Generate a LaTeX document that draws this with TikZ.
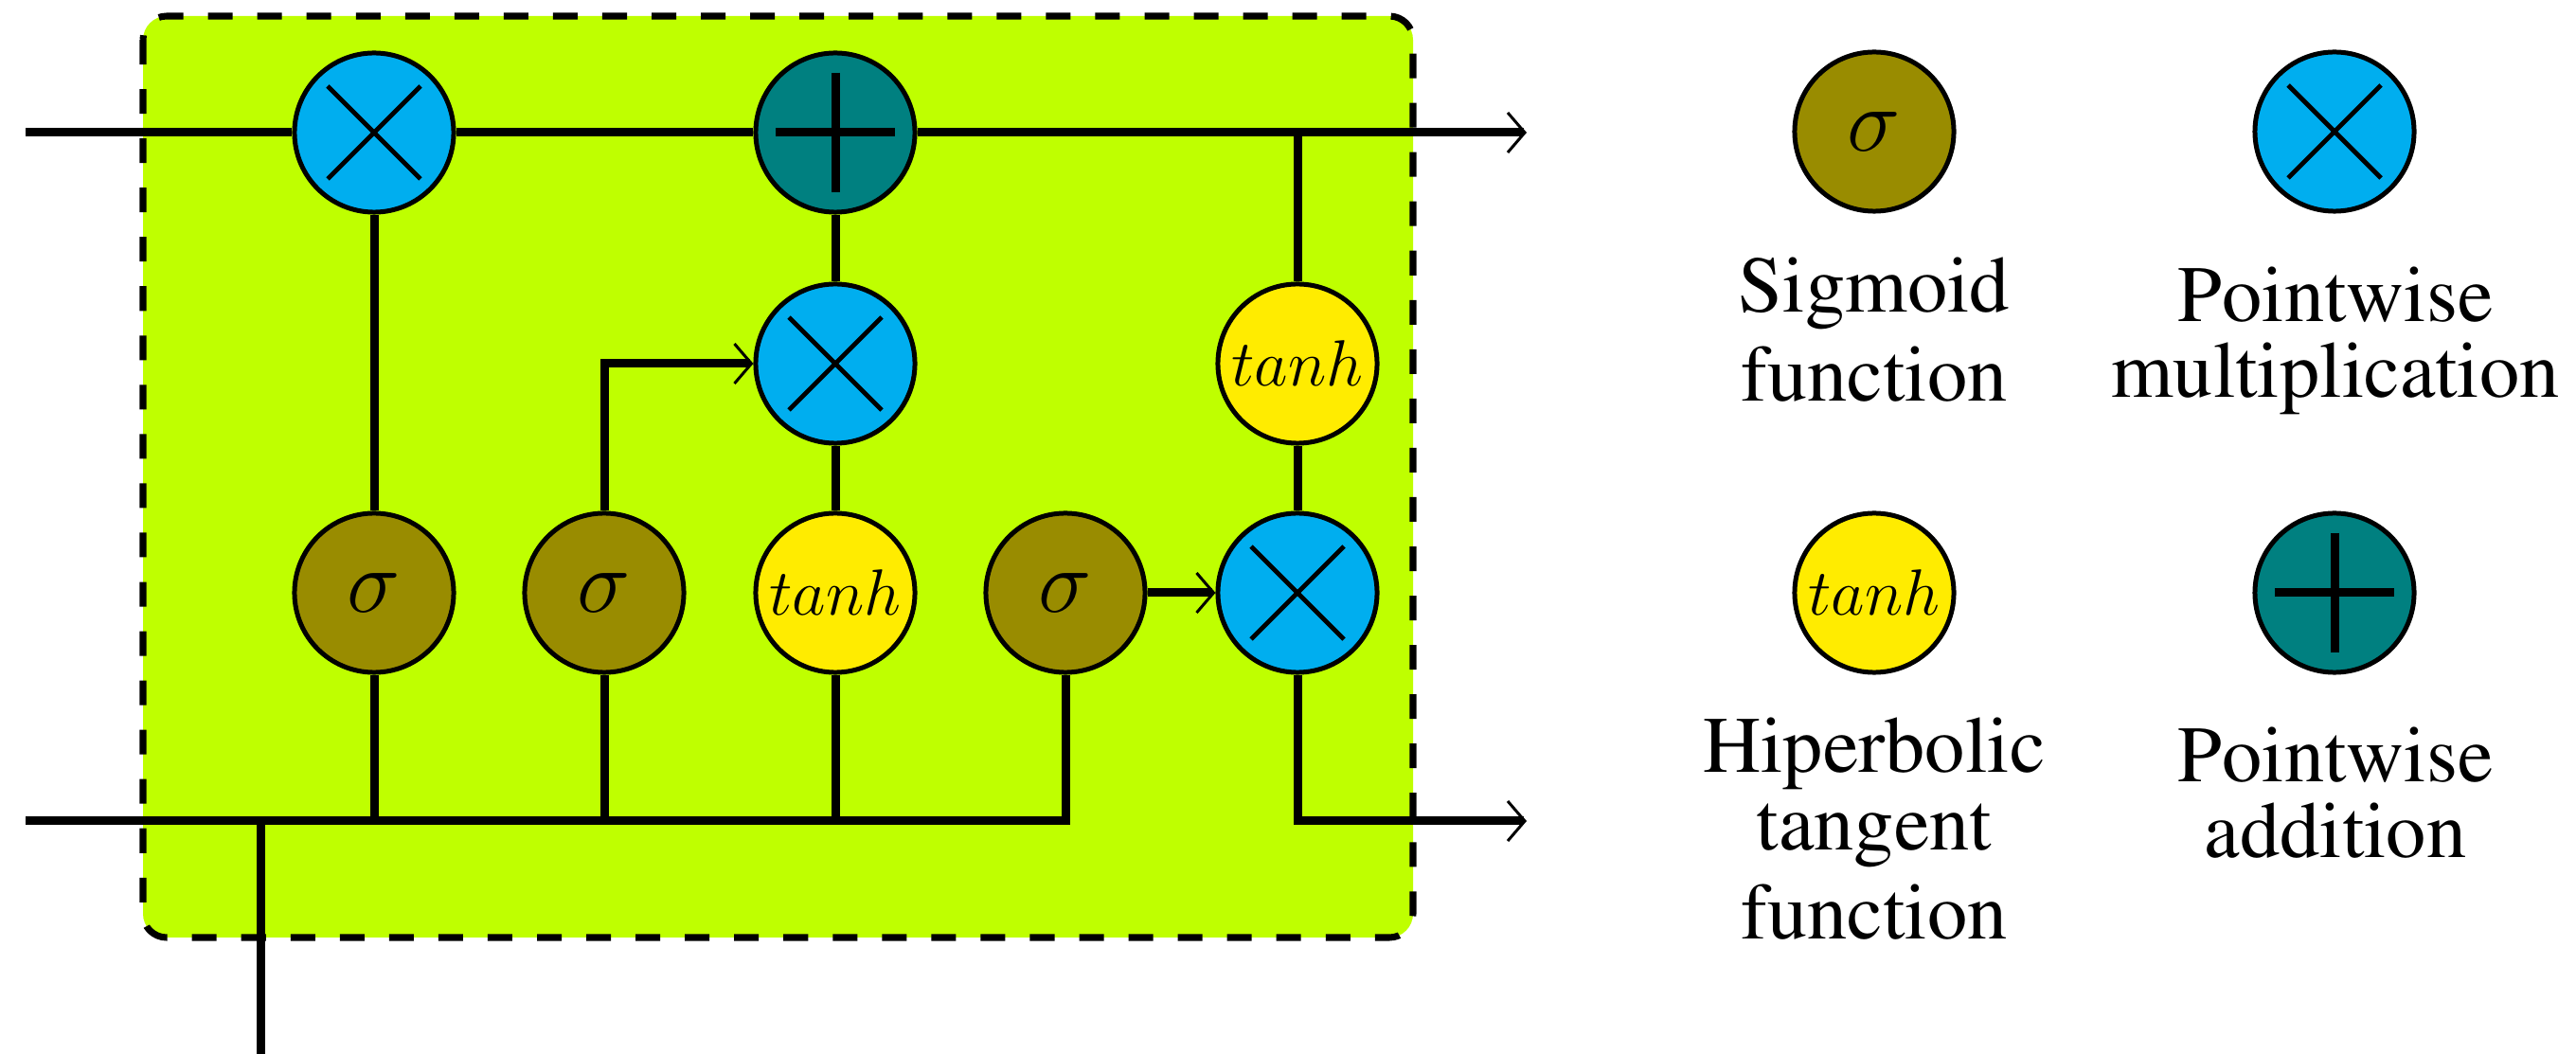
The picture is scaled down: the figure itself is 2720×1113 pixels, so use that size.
\RequirePackage{fix-cm}
\documentclass[tikz,border=0pt]{standalone}
\usetikzlibrary{arrows.meta}
\definecolor{limebg}{RGB}{191,255,0}
\definecolor{sigcol}{RGB}{153,140,0}
\definecolor{mulcol}{RGB}{0,174,239}
\definecolor{addcol}{RGB}{0,128,128}
\definecolor{tanhcol}{RGB}{255,236,0}
\newcommand{\legendfontsel}{\fontencoding{OT1}\fontfamily{ptm}\fontseries{m}\fontshape{n}\fontsize{24pt}{22.8pt}\selectfont}
\tikzset{
  circ/.style={circle, draw=black, line width=1.42pt, minimum size=1.68cm, inner sep=0pt},
  sigmanode/.style={circ, fill=sigcol, font=\fontsize{27pt}{27pt}\selectfont},
  tanhnode/.style={circ, fill=tanhcol, font=\fontsize{19.6pt}{19.6pt}\selectfont},
  multnode/.style={circ, fill=mulcol, path picture={
      \draw[line width=1.4pt] ([shift={(-49,-49)}]path picture bounding box.center) -- ([shift={(49,49)}]path picture bounding box.center);
      \draw[line width=1.4pt] ([shift={(-49,49)}]path picture bounding box.center) -- ([shift={(49,-49)}]path picture bounding box.center);}},
  addnode/.style={circ, fill=addcol, path picture={
      \draw[line width=2.56pt] ([shift={(-63,0)}]path picture bounding box.center) -- ([shift={(63,0)}]path picture bounding box.center);
      \draw[line width=2.56pt] ([shift={(0,-63)}]path picture bounding box.center) -- ([shift={(0,63)}]path picture bounding box.center);}},
  wire/.style={line width=2.56pt},
  arrowwire/.style={wire, -{Straight Barb[length=0.18cm, width=0.42cm, line width=0.85pt]}},
  legendtext/.style={anchor=north, inner sep=0pt, align=center, font=\legendfontsel},
  cellbox/.style={fill=limebg, draw=black, line width=2pt, dash pattern=on 7.4pt off 7.4pt, rounded corners=0.25cm}
}
\begin{document}
\begin{tikzpicture}[x=0.01cm, y=-0.01cm]
\useasboundingbox (0,0) rectangle (2720,1113);
% cell background
\path[cellbox] (151,17) rectangle (1492,990);
% nodes
\node[multnode] (mult1) at (395,140) {};
\node[addnode] (plus) at (882,140) {};
\node[multnode] (mult2) at (882,384) {};
\node[tanhnode] (tanh2) at (1370,384) {$tanh$};
\node[sigmanode] (sig1) at (395,626) {$\sigma$};
\node[sigmanode] (sig2) at (638,626) {$\sigma$};
\node[tanhnode] (tanh1) at (882,626) {$tanh$};
\node[sigmanode] (sig3) at (1125,626) {$\sigma$};
\node[multnode] (mult3) at (1370,626) {};
% coordinates
\coordinate (in1) at (27,140);
\coordinate (out1) at (1612,140);
\coordinate (j1) at (1370,140);
\coordinate (in2) at (27,867);
\coordinate (out2) at (1612,867);
\coordinate (b1) at (395,867);
\coordinate (b2) at (638,867);
\coordinate (b3) at (882,867);
\coordinate (j0) at (275,867);
\coordinate (inb) at (275,1113);
% connectors
\draw[wire] (in1) -- (mult1);
\draw[wire] (mult1) -- (plus);
\draw[arrowwire] (plus) -- (out1);
\draw[wire] (tanh2) -- (j1);
\draw[wire] (tanh2) -- (mult3);
\draw[arrowwire] (mult3) |- (out2);
\draw[wire] (in2) -| (sig3);
\draw[arrowwire] (sig3) -- (mult3);
\draw[wire] (sig1) -- (mult1);
\draw[wire] (sig1) -- (b1);
\draw[wire] (sig2) -- (b2);
\draw[arrowwire] (sig2) |- (mult2);
\draw[wire] (tanh1) -- (mult2);
\draw[wire] (tanh1) -- (b3);
\draw[wire] (mult2) -- (plus);
\draw[wire] (j0) -- (inb);
% legend
\node[sigmanode] (lsig) at (1979,139) {$\sigma$};
\node[multnode] (lmult) at (2465,139) {};
\node[tanhnode] (ltanh) at (1979,626) {$tanh$};
\node[addnode] (ladd) at (2465,626) {};
\node[legendtext] (tsig) at (1979,271) {Sigmoid\\[4pt]function};
\node[legendtext] (tmult) at (2466,281) {Pointwise\\multiplication};
\node[legendtext] (ttanh) at (1979,757) {Hiperbolic\\[0.6pt]tangent\\[4pt]function};
\node[legendtext] (tadd) at (2466,767) {Pointwise\\addition};
\end{tikzpicture}
\end{document}
